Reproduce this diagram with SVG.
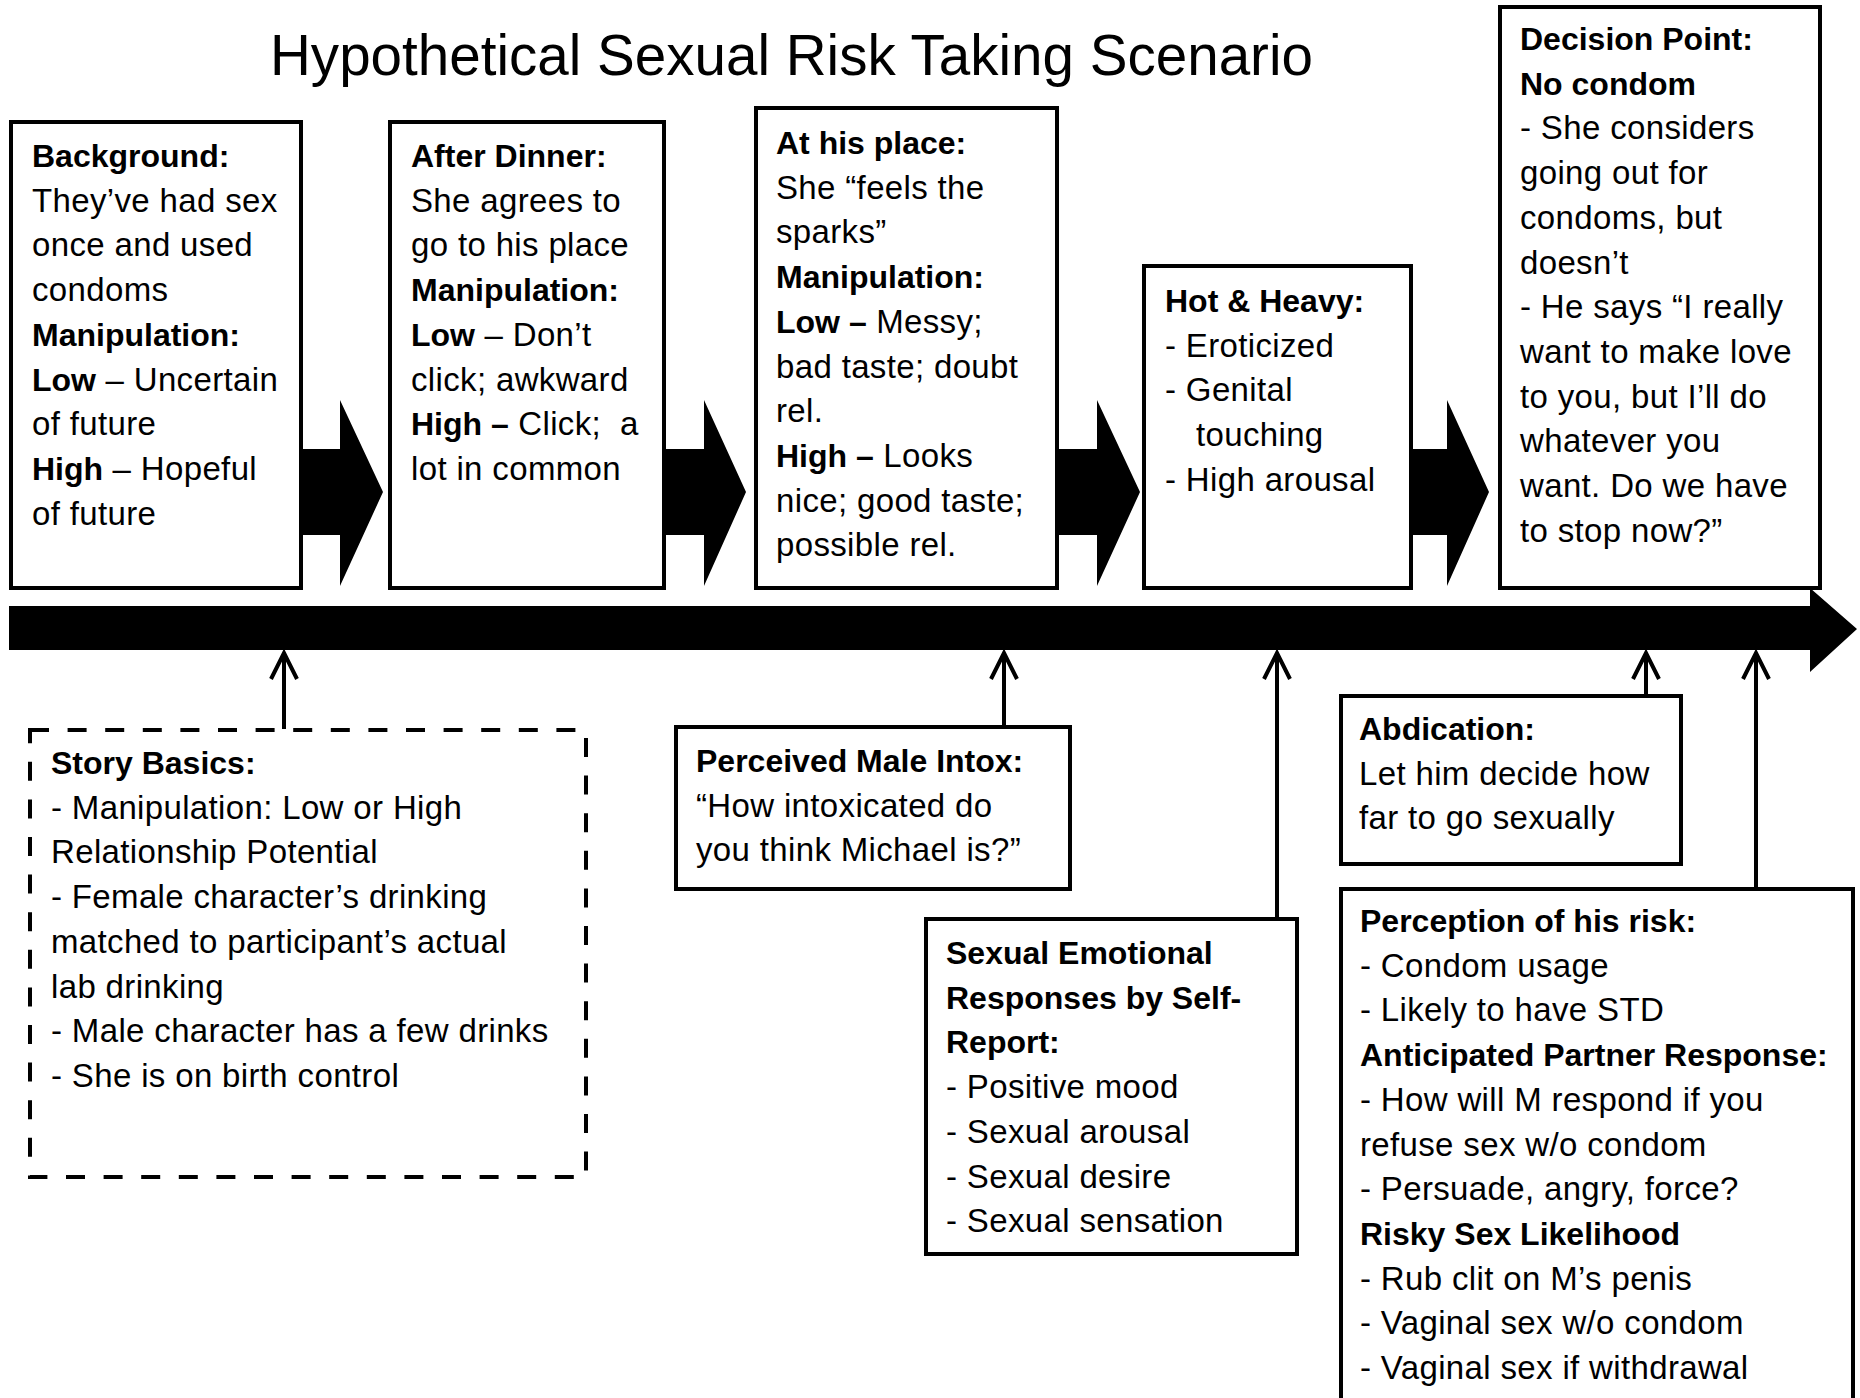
<svg xmlns="http://www.w3.org/2000/svg" width="1860" height="1398" viewBox="0 0 1860 1398">
<defs>
<style>
text{font-family:"Liberation Sans",Arial,sans-serif;font-size:33px;fill:#000;letter-spacing:0.35px}
.b{font-weight:bold;font-size:32px;letter-spacing:0}
.title{font-size:57px;letter-spacing:0}
.box{fill:#fff;stroke:#000;stroke-width:4}
.dash{fill:#fff;stroke:#000;stroke-width:4;stroke-dasharray:19 18.6}
.blk{fill:#000;stroke:none}
.ln{fill:none;stroke:#000;stroke-width:4}
</style>
</defs>
<rect width="1860" height="1398" fill="#fff"/>
<text class="title" x="270" y="75" textLength="1043" lengthAdjust="spacingAndGlyphs">Hypothetical Sexual Risk Taking Scenario</text>

<g id="connectors">
<polygon class="blk" points="9,606 1810,606 1810,588 1857,629 1810,672 1810,650 9,650"/>
<polygon class="blk" points="301,449 340,449 340,400 383,492 340,586 340,535 301,535"/>
<polygon class="blk" points="664,449 704,449 704,400 746,492 704,586 704,535 664,535"/>
<polygon class="blk" points="1058,449 1097,449 1097,400 1140,492 1097,586 1097,535 1058,535"/>
<polygon class="blk" points="1411,449 1447,449 1447,400 1489,492 1447,586 1447,535 1411,535"/>
<g class="ln">
<path d="M284,729 V653 M271,679 L284,653 L297,679"/>
<path d="M1004,727 V653 M991,679 L1004,653 L1017,679"/>
<path d="M1277,919 V653 M1264,679 L1277,653 L1290,679"/>
<path d="M1646,696 V653 M1633,679 L1646,653 L1659,679"/>
<path d="M1756,889 V653 M1743,679 L1756,653 L1769,679"/>
</g>
</g>

<g id="background">
<rect class="box" x="11" y="122" width="290" height="466"/>
<text x="32" y="167"><tspan class="b">Background:</tspan>
<tspan x="32" y="211.7">They’ve had sex</tspan>
<tspan x="32" y="256.4">once and used</tspan>
<tspan x="32" y="301.1">condoms</tspan>
<tspan x="32" y="345.8" class="b">Manipulation:</tspan>
<tspan x="32" y="390.5"><tspan class="b">Low</tspan> – Uncertain</tspan>
<tspan x="32" y="435.2">of future</tspan>
<tspan x="32" y="479.9"><tspan class="b">High</tspan> – Hopeful</tspan>
<tspan x="32" y="524.6">of future</tspan></text>
</g>

<g id="after-dinner">
<rect class="box" x="390" y="122" width="274" height="466"/>
<text x="411" y="167"><tspan class="b">After Dinner:</tspan>
<tspan x="411" y="211.7">She agrees to</tspan>
<tspan x="411" y="256.4">go to his place</tspan>
<tspan x="411" y="301.1" class="b">Manipulation:</tspan>
<tspan x="411" y="345.8"><tspan class="b">Low</tspan> – Don’t</tspan>
<tspan x="411" y="390.5">click; awkward</tspan>
<tspan x="411" y="435.2"><tspan class="b">High –</tspan> Click;&#160; a</tspan>
<tspan x="411" y="479.9">lot in common</tspan></text>
</g>

<g id="at-his-place">
<rect class="box" x="756" y="108" width="301" height="480"/>
<text x="776" y="154"><tspan class="b">At his place:</tspan>
<tspan x="776" y="198.7">She “feels the</tspan>
<tspan x="776" y="243.4">sparks”</tspan>
<tspan x="776" y="288.1" class="b">Manipulation:</tspan>
<tspan x="776" y="332.8"><tspan class="b">Low –</tspan> Messy;</tspan>
<tspan x="776" y="377.5">bad taste; doubt</tspan>
<tspan x="776" y="422.2">rel.</tspan>
<tspan x="776" y="466.9"><tspan class="b">High –</tspan> Looks</tspan>
<tspan x="776" y="511.6">nice; good taste;</tspan>
<tspan x="776" y="556.3">possible rel.</tspan></text>
</g>

<g id="hot-heavy">
<rect class="box" x="1144" y="266" width="267" height="322"/>
<text x="1165" y="312"><tspan class="b">Hot &amp; Heavy:</tspan>
<tspan x="1165" y="356.7">- Eroticized</tspan>
<tspan x="1165" y="401.4">- Genital</tspan>
<tspan x="1196" y="446.1">touching</tspan>
<tspan x="1165" y="490.8">- High arousal</tspan></text>
</g>

<g id="decision-point">
<rect class="box" x="1500" y="7" width="320" height="581"/>
<text x="1520" y="50"><tspan class="b">Decision Point:</tspan>
<tspan x="1520" y="94.7" class="b">No condom</tspan>
<tspan x="1520" y="139.4">- She considers</tspan>
<tspan x="1520" y="184.1">going out for</tspan>
<tspan x="1520" y="228.8">condoms, but</tspan>
<tspan x="1520" y="273.5">doesn’t</tspan>
<tspan x="1520" y="318.2">- He says “I really</tspan>
<tspan x="1520" y="362.9">want to make love</tspan>
<tspan x="1520" y="407.6">to you, but I’ll do</tspan>
<tspan x="1520" y="452.3">whatever you</tspan>
<tspan x="1520" y="497">want. Do we have</tspan>
<tspan x="1520" y="541.7">to stop now?”</tspan></text>
</g>

<g id="story-basics">
<rect class="dash" x="30" y="730" width="556" height="447"/>
<text x="51" y="774"><tspan class="b">Story Basics:</tspan>
<tspan x="51" y="818.7">- Manipulation: Low or High</tspan>
<tspan x="51" y="863.4">Relationship Potential</tspan>
<tspan x="51" y="908.1">- Female character’s drinking</tspan>
<tspan x="51" y="952.8">matched to participant’s actual</tspan>
<tspan x="51" y="997.5">lab drinking</tspan>
<tspan x="51" y="1042.2">- Male character has a few drinks</tspan>
<tspan x="51" y="1086.9">- She is on birth control</tspan></text>
</g>

<g id="perceived-intox">
<rect class="box" x="676" y="727" width="394" height="162"/>
<text x="696" y="772"><tspan class="b">Perceived Male Intox:</tspan>
<tspan x="696" y="816.7">“How intoxicated do</tspan>
<tspan x="696" y="861.4">you think Michael is?”</tspan></text>
</g>

<g id="sexual-emotional">
<rect class="box" x="926" y="919" width="371" height="335"/>
<text x="946" y="964"><tspan class="b">Sexual Emotional</tspan>
<tspan x="946" y="1008.7" class="b">Responses by Self-</tspan>
<tspan x="946" y="1053.4" class="b">Report:</tspan>
<tspan x="946" y="1098.1">- Positive mood</tspan>
<tspan x="946" y="1142.8">- Sexual arousal</tspan>
<tspan x="946" y="1187.5">- Sexual desire</tspan>
<tspan x="946" y="1232.2">- Sexual sensation</tspan></text>
</g>

<g id="abdication">
<rect class="box" x="1341" y="696" width="340" height="168"/>
<text x="1359" y="740"><tspan class="b">Abdication:</tspan>
<tspan x="1359" y="784.7">Let him decide how</tspan>
<tspan x="1359" y="829.4">far to go sexually</tspan></text>
</g>

<g id="perception">
<rect class="box" x="1341" y="889" width="512" height="520"/>
<text x="1360" y="932"><tspan class="b">Perception of his risk:</tspan>
<tspan x="1360" y="976.7">- Condom usage</tspan>
<tspan x="1360" y="1021.4">- Likely to have STD</tspan>
<tspan x="1360" y="1066.1" class="b">Anticipated Partner Response:</tspan>
<tspan x="1360" y="1110.8">- How will M respond if you</tspan>
<tspan x="1360" y="1155.5">refuse sex w/o condom</tspan>
<tspan x="1360" y="1200.2">- Persuade, angry, force?</tspan>
<tspan x="1360" y="1244.9" class="b">Risky Sex Likelihood</tspan>
<tspan x="1360" y="1289.6">- Rub clit on M’s penis</tspan>
<tspan x="1360" y="1334.3">- Vaginal sex w/o condom</tspan>
<tspan x="1360" y="1379">- Vaginal sex if withdrawal</tspan></text>
</g>
</svg>
